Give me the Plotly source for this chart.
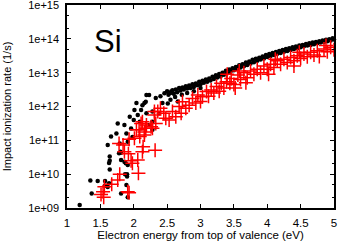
import plotly.graph_objects as go

# Black dots: electron energy (eV) and log10 impact ionization rate
black_E = [1.19, 1.35, 1.37, 1.46, 1.57, 1.57, 1.63, 1.61, 1.64, 1.64, 1.63, 1.64, 1.61, 1.66, 1.74,
           1.76, 1.78, 1.81, 1.79, 1.80, 1.81, 1.86, 1.87, 1.90, 1.90, 1.89, 1.91, 1.88, 1.91, 1.86,
           1.89, 1.91, 1.94, 2.01, 2.04, 2.06, 2.09, 2.16, 2.19, 2.11, 2.19, 2.24, 1.81, 1.96, 2.00,
           1.98, 2.13, 2.18, 2.23, 2.28, 2.38, 2.28, 2.28, 2.46, 2.51, 2.56, 2.33, 2.40, 2.43,
           2.55, 2.62, 2.72, 2.80, 2.90, 3.00, 2.66,
           2.50, 2.52, 2.55, 2.58, 2.60, 2.63, 2.65, 2.68, 2.70, 2.73, 2.75, 2.78, 2.80, 2.83, 2.85,
           2.88, 2.90, 2.93, 2.95, 2.98, 3.00, 3.03, 3.05, 3.08, 3.10, 3.13, 3.15, 3.18, 3.20, 3.23,
           3.25, 3.28, 3.30, 3.33, 3.35, 3.38, 3.40, 3.43, 3.45, 3.48, 3.50, 3.53, 3.55, 3.58, 3.60,
           3.63, 3.65, 3.68, 3.70, 3.73, 3.75, 3.78, 3.80, 3.83, 3.85, 3.88, 3.90, 3.93, 3.95, 3.98,
           4.00, 4.03, 4.05, 4.08, 4.10, 4.13, 4.15, 4.18, 4.20, 4.23, 4.25, 4.28, 4.30, 4.33, 4.35,
           4.38, 4.40, 4.43, 4.45, 4.48, 4.50, 4.53, 4.55, 4.58, 4.60, 4.63, 4.65, 4.68, 4.70, 4.73,
           4.75, 4.78, 4.80, 4.83, 4.85, 4.88, 4.90, 4.93, 4.95, 4.98, 5.00]
black_logR = [9.09, 9.81, 9.43, 9.80, 9.80, 9.66, 9.73, 9.62, 10.52, 10.40, 10.33, 10.14, 10.86, 11.11, 11.20,
              11.50, 10.62, 10.63, 10.91, 10.66, 9.43, 10.37, 10.00, 10.00, 9.93, 9.68, 9.32, 10.32, 10.27, 11.45,
              11.20, 10.96, 11.70, 11.90, 12.10, 11.75, 11.55, 12.10, 12.34, 11.90, 11.80, 11.45, 10.42, 11.35, 11.60,
              11.10, 12.04, 12.14, 12.34, 11.85, 11.80, 11.55, 11.31, 12.39, 12.09, 12.44, 12.25, 12.30, 12.10,
              12.20, 12.28, 12.35, 12.40, 12.45, 12.55, 12.15,
              12.45, 12.35, 12.40, 12.48, 12.38, 12.50, 12.42, 12.55, 12.47, 12.56, 12.50, 12.60, 12.53, 12.62, 12.55,
              12.66, 12.58, 12.68, 12.63, 12.73, 12.66, 12.76, 12.70, 12.80, 12.73, 12.83, 12.77, 12.88, 12.81, 12.92,
              12.86, 12.96, 12.89, 13.00, 12.94, 13.06, 12.98, 13.09, 13.03, 13.13, 13.07, 13.17, 13.11, 13.22, 13.15,
              13.25, 13.19, 13.30, 13.23, 13.33, 13.27, 13.38, 13.31, 13.41, 13.35, 13.44, 13.39, 13.48, 13.42, 13.52,
              13.46, 13.55, 13.49, 13.58, 13.52, 13.61, 13.56, 13.64, 13.58, 13.67, 13.62, 13.70, 13.64, 13.72, 13.67,
              13.75, 13.70, 13.77, 13.72, 13.80, 13.75, 13.82, 13.78, 13.85, 13.80, 13.87, 13.82, 13.89, 13.84, 13.91,
              13.87, 13.93, 13.89, 13.95, 13.91, 13.97, 13.93, 13.99, 13.95, 14.02, 13.98]

# Red crosses
red_E = [1.51, 1.55, 1.54, 1.56, 1.67, 1.69, 1.76, 1.79, 1.91, 1.93, 1.96, 2.06, 2.07, 1.92, 1.98,
         2.13, 2.32, 2.14, 1.78, 1.84, 1.86, 1.93, 2.01, 2.09, 2.04, 2.11, 2.19, 2.16, 2.26, 2.31,
         2.08, 2.16, 2.28, 2.33, 2.13, 2.18, 2.31, 2.36, 2.48, 2.53, 2.58, 2.63, 2.71, 2.68, 2.73,
         2.83, 2.88, 2.96, 3.03, 3.09, 3.16, 3.24, 3.31, 3.39, 3.46, 3.56, 3.44, 2.40, 2.45, 2.78,
         2.93, 3.00, 3.12, 3.20, 3.28, 3.35, 3.50, 3.60, 3.65, 3.70, 3.75, 3.80, 3.85, 3.90, 3.95,
         4.00, 4.05, 4.10, 4.15, 4.20, 4.25, 4.30, 4.35, 4.40, 4.45, 4.50, 4.55, 4.60, 4.65, 4.70,
         4.75, 4.85, 4.90, 4.95, 5.00, 3.52, 3.68, 3.58, 3.40, 4.02, 4.12, 4.48, 4.40, 4.78, 4.88]
red_logR = [9.40, 9.32, 9.48, 9.63, 9.70, 8.97, 9.83, 10.00, 9.48, 9.45, 10.40, 10.42, 10.03, 10.60, 10.32,
            10.66, 10.71, 10.81, 10.91, 10.86, 10.66, 11.03, 11.06, 11.11, 11.31, 11.50, 11.45, 11.25, 11.40, 11.85,
            11.31, 11.16, 11.36, 11.50, 11.55, 11.36, 11.75, 11.85, 11.65, 11.60, 11.85, 11.70, 11.80, 12.00, 12.14,
            12.04, 12.24, 12.34, 12.29, 12.44, 12.49, 12.59, 12.69, 12.73, 12.83, 12.93, 12.69, 11.95, 11.80, 11.95,
            12.10, 12.15, 12.30, 12.40, 12.45, 12.55, 12.65, 12.80, 13.00, 12.85, 13.05, 12.95, 13.10, 13.00, 13.20,
            13.10, 13.25, 13.15, 13.35, 13.25, 13.40, 13.30, 13.45, 13.35, 13.50, 13.42, 13.55, 13.47, 13.60, 13.52,
            13.65, 13.70, 13.62, 13.75, 13.68, 12.55, 12.70, 13.05, 12.95, 12.95, 13.40, 13.60, 13.20, 13.48, 13.80]

y_tickvals = [1e9, 1e10, 1e11, 1e12, 1e13, 1e14, 1e15]
y_ticktext = ["1e+09", "1e+10", "1e+11", "1e+12", "1e+13", "1e+14", "1e+15"]
x_tickvals = [1, 1.5, 2, 2.5, 3, 3.5, 4, 4.5, 5]
x_ticktext = ["1", "1.5", "2", "2.5", "3", "3.5", "4", "4.5", "5"]
y_minor = [m * 10 ** d for d in range(9, 15) for m in (2, 5)]

black_R = [10 ** v for v in black_logR]
red_R = [10 ** v for v in red_logR]

font = "Liberation Sans, Arial, sans-serif"

fig = go.Figure()
fig.add_trace(go.Scatter(x=black_E, y=black_R, mode="markers",
                         marker=dict(color="black", size=4.5, line=dict(width=0)),
                         showlegend=False, cliponaxis=False))
fig.add_trace(go.Scatter(x=red_E, y=red_R, mode="markers",
                         marker=dict(symbol="cross-thin", size=10, color="red",
                                     line=dict(color="red", width=1.5)),
                         showlegend=False))

fig.add_annotation(text="Si", x=0.154, y=0.818, xref="paper", yref="paper",
                   xanchor="center", yanchor="middle",
                   showarrow=False, font=dict(family=font, size=31, color="black"))

fig.update_layout(
    width=343, height=246,
    margin=dict(l=67, r=9, t=5, b=38),
    paper_bgcolor="white", plot_bgcolor="white",
    font=dict(family=font, size=11, color="black"),
)
fig.update_xaxes(range=[1, 5], tickvals=x_tickvals, ticktext=x_ticktext, automargin=False,
                 ticks="inside", ticklen=4, tickwidth=1, tickcolor="black",
                 showline=True, linecolor="black", linewidth=1.5, mirror="ticks",
                 showgrid=False, zeroline=False, ticklabelstandoff=3,
                 ticklabeloverflow="allow",
                 title=dict(text="Electron energy from top of valence (eV)", standoff=1,
                            font=dict(size=11.5)),
                 tickfont=dict(size=11.5))
fig.update_yaxes(type="log", range=[9, 15], tickvals=y_tickvals, ticktext=y_ticktext, automargin=False,
                 ticks="inside", ticklen=4, tickwidth=1, tickcolor="black",
                 minor=dict(tickvals=y_minor, ticks="inside", ticklen=2, tickcolor="black"),
                 showline=True, linecolor="black", linewidth=1.5, mirror="ticks",
                 showgrid=False, zeroline=False, ticklabelstandoff=4,
                 ticklabeloverflow="allow",
                 title=dict(text="Impact ionization rate (1/s)", standoff=14,
                            font=dict(size=11)),
                 tickfont=dict(size=11))

fig.write_html("out.html", config={"displayModeBar": False},
               post_script="document.body.style.margin='0';document.body.style.overflow='hidden';")
